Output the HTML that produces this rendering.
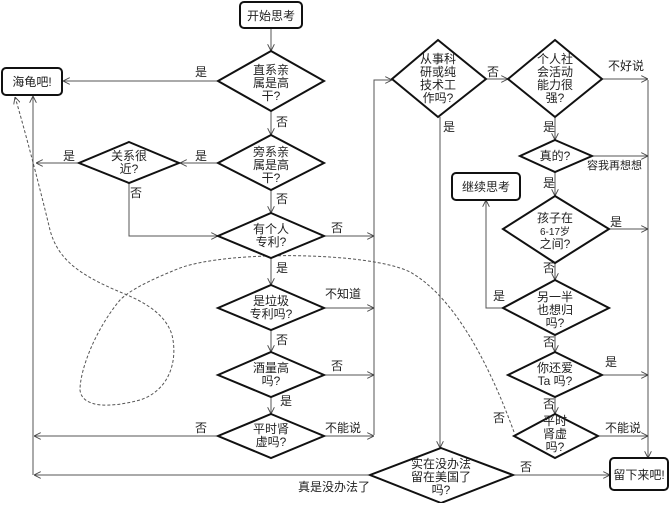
<!DOCTYPE html>
<html><head><meta charset="utf-8"><style>
body{margin:0;background:#fff}
text{font-family:"Liberation Sans","Noto Sans CJK SC",sans-serif;font-size:12px;fill:#222}
</style></head><body>
<svg width="670" height="503" viewBox="0 0 670 503" xmlns="http://www.w3.org/2000/svg">
<defs><marker id="a" viewBox="0 0 10 10" refX="10" refY="5" markerWidth="7" markerHeight="7" orient="auto"><path d="M0,0L10,5L0,10" fill="none" stroke="#444" stroke-width="1.3"/></marker></defs>
<g stroke="#555" stroke-width="1" fill="none" marker-end="url(#a)">
<path d="M271,28V51"/>
<path d="M218,81H63"/>
<path d="M271,111V135"/>
<path d="M218,163H180"/>
<path d="M79,163H36"/>
<path d="M129,183V236H218"/>
<path d="M271,190V213"/>
<path d="M324,236H374"/>
<path d="M374,435V80H392"/>
<path d="M271,258V285"/>
<path d="M324,308H374"/>
<path d="M271,330V352"/>
<path d="M324,375H374"/>
<path d="M271,397V414"/>
<path d="M324,436H374"/>
<path d="M218,436H34"/>
<path d="M370,475H34"/>
<path d="M33,475V96"/>
<path d="M486,79H508"/>
<path d="M602,79H648"/>
<path d="M648,80V458"/>
<path d="M440,117V448"/>
<path d="M513,475H610"/>
<path d="M555,117V140"/>
<path d="M592,156H648"/>
<path d="M555,172V196"/>
<path d="M609,229H648"/>
<path d="M555,263V280"/>
<path d="M503,308H486V200"/>
<path d="M555,335V352"/>
<path d="M602,375H648"/>
<path d="M555,397V414"/>
<path d="M598,436H648"/>
</g>
<path d="M514,432C495,380 460,300 410,272C370,252 230,250 180,268C150,280 130,290 120,300C95,330 80,370 80,390C82,408 110,408 140,400C170,390 178,360 172,335C165,312 140,300 120,292C80,275 58,260 50,230C38,180 22,120 15,97" stroke="#555" stroke-dasharray="3,2" fill="none" marker-end="url(#a)"/>
<g stroke="#111" stroke-width="2" fill="#fff">
<rect x="240" y="2" width="62" height="26" rx="4"/>
<rect x="2" y="68" width="60" height="27" rx="4"/>
<rect x="452" y="173" width="68" height="27" rx="4"/>
<rect x="610" y="458" width="58" height="32" rx="4"/>
<path d="M271,51L324,81L271,111L218,81Z"/>
<path d="M271,135L324,163L271,190L218,163Z"/>
<path d="M129,142L179,163L129,183L79,163Z"/>
<path d="M271,213L324,236L271,258L218,236Z"/>
<path d="M271,285L324,308L271,330L218,308Z"/>
<path d="M271,352L324,375L271,397L218,375Z"/>
<path d="M271,414L324,436L271,458L218,436Z"/>
<path d="M438,40L486,79L438,117L392,79Z"/>
<path d="M555,40L602,79L555,117L508,79Z"/>
<path d="M555,140L592,156L555,172L520,156Z"/>
<path d="M555,196L609,229L555,263L503,229Z"/>
<path d="M555,280L609,308L555,335L503,308Z"/>
<path d="M555,352L602,375L555,397L508,375Z"/>
<path d="M555,414L598,436L555,458L514,436Z"/>
<path d="M441,448L513,475L441,503L370,475Z"/>
</g>
<g text-anchor="middle">
<text x="271" y="20">开始思考</text>
<text x="32" y="86">海龟吧!</text>
<text x="486" y="191">继续思考</text>
<text x="639" y="479">留下来吧!</text>
<text x="271" y="74">直系亲</text><text x="271" y="87">属是高</text><text x="271" y="100">干?</text>
<text x="271" y="156">旁系亲</text><text x="271" y="169">属是高</text><text x="271" y="182">干?</text>
<text x="129" y="160">关系很</text><text x="129" y="173">近?</text>
<text x="271" y="233">有个人</text><text x="271" y="246">专利?</text>
<text x="271" y="305">是垃圾</text><text x="271" y="318">专利吗?</text>
<text x="271" y="372">酒量高</text><text x="271" y="385">吗?</text>
<text x="271" y="433">平时肾</text><text x="271" y="446">虚吗?</text>
<text x="438" y="63">从事科</text><text x="438" y="76">研或纯</text><text x="438" y="89">技术工</text><text x="438" y="102">作吗?</text>
<text x="555" y="63">个人社</text><text x="555" y="76">会活动</text><text x="555" y="89">能力很</text><text x="555" y="102">强?</text>
<text x="555" y="160">真的?</text>
<text x="555" y="222">孩子在</text><text x="555" y="235" style="font-size:10px">6-17岁</text><text x="555" y="248">之间?</text>
<text x="555" y="301">另一半</text><text x="555" y="314">也想归</text><text x="555" y="327">吗?</text>
<text x="555" y="372">你还爱</text><text x="555" y="385">Ta 吗?</text>
<text x="555" y="425">平时</text><text x="555" y="438">肾虚</text><text x="555" y="451">吗?</text>
<text x="441" y="468">实在没办法</text><text x="441" y="481">留在美国了</text><text x="441" y="494">吗?</text>
</g>
<g>
<text x="195" y="76">是</text><text x="276" y="126">否</text>
<text x="195" y="160">是</text><text x="63" y="160">是</text>
<text x="130" y="197">否</text><text x="276" y="203">否</text>
<text x="331" y="232">否</text><text x="276" y="272">是</text>
<text x="325" y="298">不知道</text><text x="276" y="344">否</text>
<text x="331" y="370">否</text><text x="280" y="405">是</text>
<text x="195" y="432">否</text><text x="325" y="432">不能说</text>
<text x="298" y="491">真是没办法了</text>
<text x="487" y="76">否</text><text x="443" y="131">是</text>
<text x="608" y="70">不好说</text>
<text x="543" y="131">是</text><text x="587" y="169" style="font-size:11px">容我再想想</text>
<text x="543" y="187">是</text><text x="610" y="226">是</text>
<text x="543" y="272">否</text><text x="493" y="300">是</text>
<text x="543" y="346">否</text><text x="605" y="366">是</text>
<text x="543" y="408">否</text><text x="493" y="422">否</text>
<text x="605" y="432">不能说</text>
<text x="520" y="471">否</text>
</g>
</svg>
</body></html>
